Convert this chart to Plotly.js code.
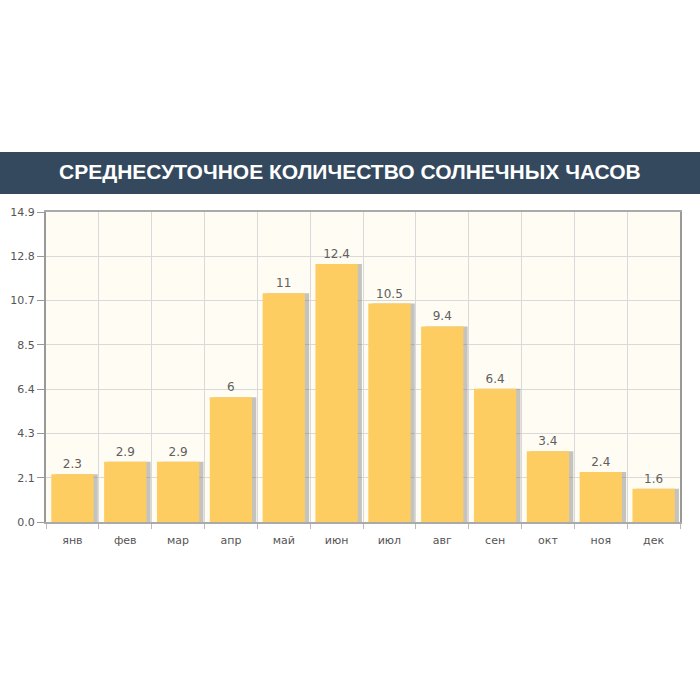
<!DOCTYPE html>
<html><head><meta charset="utf-8">
<script src="https://cdn.plot.ly/plotly-3.0.1.min.js"></script>
<style>body{margin:0;background:#fff}#c{width:700px;height:700px}</style>
</head><body><div id="c"></div>
<script>
var months = ["янв","фев","мар","апр","май","июн","июл","авг","сен","окт","ноя","дек"];
var hours = [2.3, 2.9, 2.9, 6, 11, 12.4, 10.5, 9.4, 6.4, 3.4, 2.4, 1.6];
var yTicks = [0, 2.1286, 4.2571, 6.3857, 8.5143, 10.6429, 12.7714, 14.9];
var yTickText = ["0.0","2.1","4.3","6.4","8.5","10.7","12.8","14.9"];
var titleText = "СРЕДНЕСУТОЧНОЕ КОЛИЧЕСТВО СОЛНЕЧНЫХ ЧАСОВ";

var L = 46, R = 20, T = 212, B = 178, W = 700, H = 700;
var pw = W - L - R, ph = H - T - B;

var shadow = {
  type: 'bar', x: months, y: hours, width: 0.8, offset: -0.32,
  marker: {color: 'rgba(110,110,110,0.4)', line: {width: 0}},
  hoverinfo: 'skip', showlegend: false
};
var main = {
  type: 'bar', x: months, y: hours, width: 0.8, offset: -0.4,
  marker: {color: '#fecd61', line: {width: 0}},
  text: hours.map(String), textposition: 'outside', cliponaxis: false,
  textfont: {family: 'DejaVu Sans', size: 12, color: '#5f5f5f'},
  showlegend: false
};

var layout = {
  width: W, height: H,
  margin: {l: L, r: R, t: T, b: B},
  paper_bgcolor: '#ffffff', plot_bgcolor: '#fffcf3',
  barmode: 'overlay', bargap: 0.2,
  font: {family: 'DejaVu Sans', size: 11, color: '#555'},
  xaxis: {
    type: 'category', tickson: 'boundaries', ticks: 'outside', ticklen: 5,
    tickcolor: '#bbb', showgrid: true, gridcolor: '#d9d9d9', gridwidth: 1,
    showline: true, linecolor: '#aaa', linewidth: 2, mirror: true,
    ticklabelstandoff: 7,
    tickfont: {family: 'DejaVu Sans', size: 11, color: '#555'}
  },
  yaxis: {
    range: [0, 14.9], tickvals: yTicks, ticktext: yTickText,
    ticks: 'outside', ticklen: 7, tickcolor: '#999',
    showgrid: true, gridcolor: '#d9d9d9', gridwidth: 1, zeroline: false,
    showline: true, linecolor: '#999', linewidth: 2, mirror: true,
    tickfont: {family: 'DejaVu Sans', size: 11, color: '#555'}
  },
  shapes: [{
    type: 'rect', xref: 'paper', yref: 'paper', layer: 'above',
    x0: -L / pw, x1: (W - L) / pw,
    y0: (H - B - 194) / ph, y1: (H - B - 152) / ph,
    fillcolor: '#34495e', line: {width: 0}
  }],
  annotations: [{
    xref: 'paper', yref: 'paper',
    x: (350 - L) / pw, y: (H - B - 172) / ph,
    xanchor: 'center', yanchor: 'middle', showarrow: false,
    text: '<b>' + titleText + '</b>',
    font: {family: 'Liberation Sans', size: 21, color: '#ffffff'}
  }]
};

Plotly.newPlot('c', [shadow, main], layout, {displayModeBar: false, staticPlot: true});
</script>
</body></html>
